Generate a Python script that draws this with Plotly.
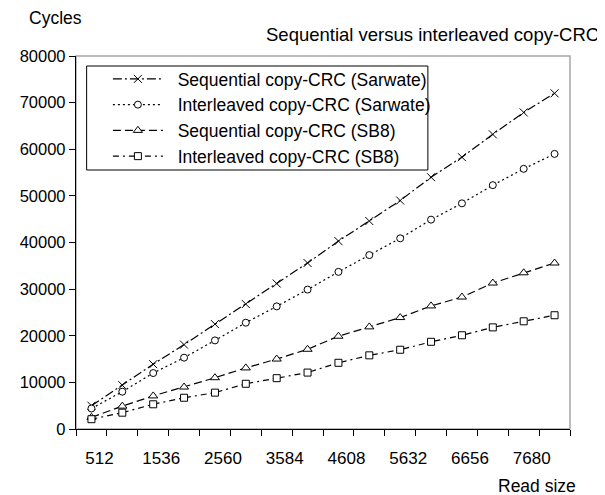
import plotly.graph_objects as go

read_size = [512, 1024, 1536, 2048, 2560, 3072, 3584, 4096,
             4608, 5120, 5632, 6144, 6656, 7168, 7680, 8192]
seq_sarwate = [5000, 9400, 13900, 18100, 22500, 26800, 31200, 35600,
               40300, 44600, 49000, 54000, 58300, 63200, 67900, 72000]
inter_sarwate = [4400, 8000, 12000, 15300, 19000, 22800, 26300, 29900,
                 33700, 37300, 40900, 44900, 48400, 52300, 55800, 59000]
seq_sb8 = [2500, 4900, 7100, 9000, 11000, 13100, 15000, 17100,
           19900, 21900, 23900, 26400, 28300, 31300, 33500, 35600]
inter_sb8 = [2100, 3500, 5300, 6700, 7800, 9700, 10900, 12100,
             14200, 15800, 17000, 18700, 20100, 21800, 23100, 24400]
x_tick_labels = [512, 1536, 2560, 3584, 4608, 5632, 6656, 7680]
y_ticks = [0, 10000, 20000, 30000, 40000, 50000, 60000, 70000, 80000]

names = ["Sequential copy-CRC (Sarwate)", "Interleaved copy-CRC (Sarwate)",
         "Sequential copy-CRC (SB8)", "Interleaved copy-CRC (SB8)"]
series = [seq_sarwate, inter_sarwate, seq_sb8, inter_sb8]
dashes = ["9px,3px,2px,3px", "2px,3px", "8px,4px", "6px,4px,2px,4px"]
symbols = ["x-thin", "circle", "triangle-up", "square"]
sizes = [8, 7, 8, 7]

FONT = "Liberation Sans, Arial, sans-serif"
TXT = 17.5
fig = go.Figure()
for name, ys, dash, sym, sz in zip(names, series, dashes, symbols, sizes):
    fig.add_trace(go.Scatter(
        x=read_size, y=ys, name="\u00a0\u00a0" + name, mode="lines+markers",
        line=dict(color="black", width=1.2, dash=dash),
        marker=dict(symbol=sym, size=sz, color="white",
                    line=dict(color="black", width=1)),
    ))

# page offset caused by the default 8px body margin
OFF = 8
W, H = 605 - OFF, 495 - OFF
L, R, T, B = 59 - OFF, 570 - OFF, 56 - OFF, 429 - OFF
pw, ph = R - L, B - T
def px(x):
    return (x - OFF - L) / pw
def py(y):
    return (B - (y - OFF)) / ph

fig.update_layout(
    width=W, height=H,
    margin=dict(l=L, r=W - R, t=T, b=H - B, pad=0),
    paper_bgcolor="white", plot_bgcolor="white",
    font=dict(family=FONT, size=16.5, color="black"),
    showlegend=True,
    legend=dict(x=px(92), y=py(61), xanchor="left", yanchor="top",
                bgcolor="rgba(0,0,0,0)", borderwidth=0,
                itemwidth=50, font=dict(size=TXT), tracegroupgap=0),
    xaxis=dict(range=[256, 8448], tickvals=x_tick_labels,
               ticktext=[str(v) for v in x_tick_labels],
               ticks="outside", ticklen=13, tickcolor="rgba(0,0,0,0)",
               ticklabelshift=8, tickfont=dict(size=17),
               minor=dict(tick0=256, dtick=512, ticks="outside", ticklen=6,
                          tickcolor="black", tickwidth=1, showgrid=False),
               showline=True, linecolor="black", linewidth=1.3,
               showgrid=False, zeroline=False),
    yaxis=dict(range=[0, 80000], tickvals=y_ticks,
               ticktext=[str(v) for v in y_ticks],
               ticks="outside", ticklen=6, tickcolor="black",
               showline=True, linecolor="black", linewidth=1.3,
               showgrid=False, zeroline=False),
    shapes=[
        dict(type="rect", xref="paper", yref="paper", x0=0, x1=1, y0=0, y1=1,
             line=dict(color="#a6a6a6", width=1.5), layer="below"),
        dict(type="rect", xref="paper", yref="paper",
             x0=px(70), x1=px(423), y0=py(170), y1=py(66),
             line=dict(color="black", width=1), layer="above"),
    ],
    annotations=[
        dict(text="Cycles", xref="paper", yref="paper", x=px(8), y=py(18),
             xanchor="left", yanchor="middle", showarrow=False,
             font=dict(size=TXT)),
        dict(text="Sequential versus interleaved copy-CRC", xref="paper",
             yref="paper", x=px(602), y=py(35), xanchor="right",
             yanchor="middle", showarrow=False, font=dict(size=18.5)),
        dict(text="Read size", xref="paper", yref="paper", x=px(578),
             y=py(486), xanchor="right", yanchor="middle", showarrow=False,
             font=dict(size=TXT)),
    ],
)

fig.write_html("out.html")
